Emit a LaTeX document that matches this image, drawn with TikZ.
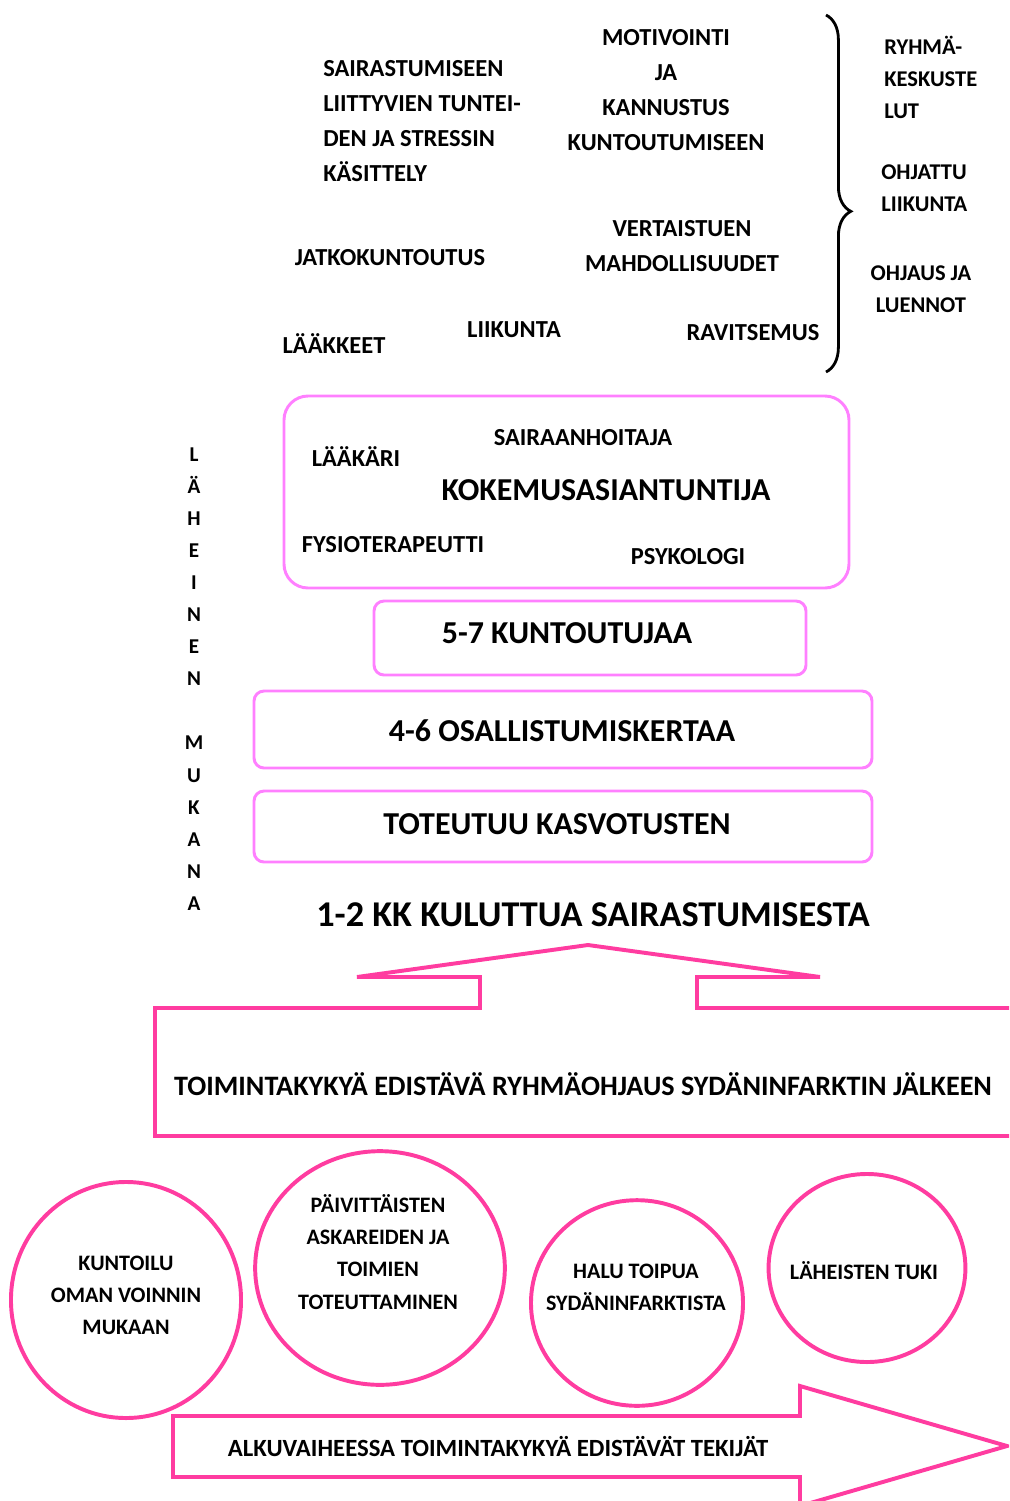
\documentclass[tikz,border=0pt]{standalone}
\usepackage{fontspec}
\setmainfont{Carlito}
\usetikzlibrary{decorations.pathreplacing}
\definecolor{boxpink}{RGB}{255,128,255}
\definecolor{hotpink}{RGB}{255,60,160}
\tikzset{
  lbl/.style={font=\fontsize{17.4}{24.9}\selectfont\bfseries, inner sep=0pt, align=center},
  sidelbl/.style={font=\fontsize{16}{22.8}\selectfont\bfseries, inner sep=0pt, align=left},
  biglbl/.style={font=\fontsize{22.7}{28}\selectfont\bfseries, inner sep=0pt},
  bubblelbl/.style={font=\fontsize{15.7}{22.8}\selectfont\bfseries, inner sep=0pt, align=center},
  pinkbox/.style={draw=boxpink, line width=2.1pt},
  hotline/.style={draw=hotpink, line width=2.8pt, line join=miter},
}
\begin{document}
\begin{tikzpicture}[x=0.025cm, y=-0.025cm]
\clip (0,0) rectangle (1009,1501);

% themes above the group
\node[lbl, align=left, anchor=west] (tunteet) at (323,121) {SAIRASTUMISEEN\\LIITTYVIEN TUNTEI-\\DEN JA STRESSIN\\KÄSITTELY};
\node[lbl] (motivointi) at (666,90) {MOTIVOINTI\\JA\\KANNUSTUS\\KUNTOUTUMISEEN};
\node[lbl] (jatko) at (390,258) {JATKOKUNTOUTUS};
\node[lbl] (vertais) at (682,246) {VERTAISTUEN\\MAHDOLLISUUDET};
\node[lbl] (laakkeet) at (334,344) {LÄÄKKEET};
\node[lbl] (liikunta) at (514,330) {LIIKUNTA};
\node[lbl] (ravitsemus) at (753,333) {RAVITSEMUS};

\draw[line width=2pt, decorate, decoration={brace, amplitude=0.62cm, aspect=0.55}] (826,15) -- (826,372);
\node[sidelbl, anchor=west] (keskustelut) at (884,77) {RYHMÄ-\\KESKUSTE\\LUT};
\node[sidelbl, anchor=west] (ohjattu) at (881,188) {OHJATTU\\LIIKUNTA};
\node[sidelbl, align=center] (luennot) at (921,289) {OHJAUS JA\\LUENNOT};

% vertical text
\node[font=\fontsize{15}{22.8}\selectfont\bfseries, inner sep=0pt, align=center] (laheinen) at (194,679)
  {L\\Ä\\H\\E\\I\\N\\E\\N\\[22.8pt]M\\U\\K\\A\\N\\A};

% group boxes
\draw[pinkbox, rounded corners=0.6cm] (284,396) rectangle (849,588);
\node[lbl] (sairaanhoitaja) at (583,438) {SAIRAANHOITAJA};
\node[lbl] (laakari) at (356,457) {LÄÄKÄRI};
\node[biglbl] (kokemus) at (606,490) {KOKEMUSASIANTUNTIJA};
\node[lbl] (fysio) at (393,545) {FYSIOTERAPEUTTI};
\node[lbl] (psykologi) at (688,557) {PSYKOLOGI};

\draw[pinkbox, rounded corners=0.25cm] (374,601) rectangle (806,675);
\node[biglbl] (kuntoutujat) at (567,633) {5-7 KUNTOUTUJAA};
\draw[pinkbox, rounded corners=0.25cm] (254,691) rectangle (872,768);
\node[biglbl] (kerrat) at (562,731) {4-6 OSALLISTUMISKERTAA};
\draw[pinkbox, rounded corners=0.25cm] (254,791) rectangle (872,862);
\node[biglbl] (kasvotus) at (557,824) {TOTEUTUU KASVOTUSTEN};

\node[font=\fontsize{25.8}{30}\selectfont\bfseries, inner sep=0pt] (aika) at (593,915) {1-2 KK KULUTTUA SAIRASTUMISESTA};

% group guidance arrow
\draw[hotline] (155,1008) -- (480,1008) -- (480,977) -- (357,977) -- (588,945) -- (820,977)
  -- (697,977) -- (697,1008) -- (1020,1008) -- (1020,1136) -- (155,1136) -- cycle;
\node[font=\fontsize{20}{24}\selectfont\bfseries, inner sep=0pt] (ryhmaohjaus) at (583,1084)
  {TOIMINTAKYKYÄ EDISTÄVÄ RYHMÄOHJAUS SYDÄNINFARKTIN JÄLKEEN};

% early factors
\draw[hotline] (126,1300) ellipse [x radius=2.875cm, y radius=2.95cm];
\draw[hotline] (380,1268) ellipse [x radius=3.12cm, y radius=2.92cm];
\draw[hotline] (637,1303) ellipse [x radius=2.65cm, y radius=2.57cm];
\draw[hotline] (867,1268) ellipse [x radius=2.46cm, y radius=2.35cm];
\node[bubblelbl] (kuntoilu) at (126,1295) {KUNTOILU\\OMAN VOINNIN\\MUKAAN};
\node[bubblelbl] (askareet) at (378,1252) {PÄIVITTÄISTEN\\ASKAREIDEN JA\\TOIMIEN\\TOTEUTTAMINEN};
\node[bubblelbl] (halu) at (636,1287) {HALU TOIPUA\\SYDÄNINFARKTISTA};
\node[bubblelbl] (tuki) at (864,1271) {LÄHEISTEN TUKI};

\draw[hotline] (173,1416) -- (800,1416) -- (800,1386) -- (1007,1446) -- (800,1506) -- (800,1477)
  -- (173,1477) -- cycle;
\node[font=\fontsize{17.6}{22}\selectfont\bfseries, inner sep=0pt] (tekijat) at (498,1446)
  {ALKUVAIHEESSA TOIMINTAKYKYÄ EDISTÄVÄT TEKIJÄT};
\end{tikzpicture}
\end{document}
